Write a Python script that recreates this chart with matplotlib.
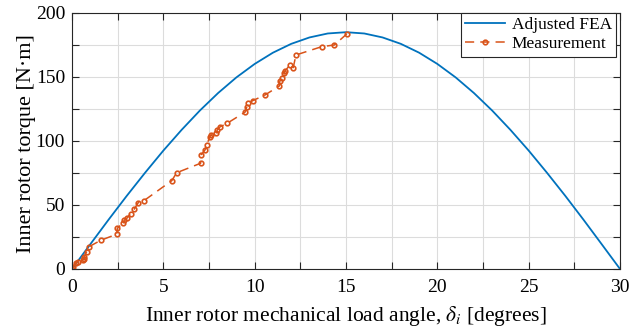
import matplotlib
matplotlib.use("Agg")
import matplotlib.pyplot as plt
from matplotlib.ticker import MultipleLocator

plt.rcParams['font.family'] = ['Liberation Serif', 'DejaVu Serif']
plt.rcParams['mathtext.fontset'] = 'stix'

# Adjusted FEA curve
fea_x = list(range(0, 31))
fea_y = [0, 19.3, 38.5, 57.2, 75.2, 92.5, 108.7, 123.8, 137.5, 149.7, 160.2,
         169.0, 175.9, 180.9, 184.0, 185.0, 184.0, 180.9, 175.9, 169.0, 160.2,
         149.7, 137.5, 123.8, 108.7, 92.5, 75.2, 57.2, 38.5, 19.3, 0]

# Measurement points
meas_x = [0, 0.07, 0.22, 0.35, 0.62, 0.66, 0.66, 0.8, 0.93, 1.57, 2.45, 2.48,
          2.77, 2.85, 3.0, 3.21, 3.41, 3.63, 3.94, 5.46, 5.73, 7.04, 7.06, 7.28,
          7.37, 7.55, 7.6, 7.88, 7.95, 8.1, 8.5, 9.47, 9.56, 9.65, 9.89, 10.56,
          11.35, 11.38, 11.48, 11.62, 11.66, 11.93, 12.11, 12.26, 13.67, 14.36, 15.04]
meas_y = [0, 1.8, 4.9, 5.7, 7, 8, 9.6, 13.5, 17.4, 22.4, 27.2, 31.8,
          35.7, 38, 39.6, 43.3, 46.8, 51.9, 53.4, 69, 75.2, 82.6, 89, 93,
          96.9, 103.4, 104.5, 106, 108.6, 111, 113.9, 122.5, 126.3, 129.4, 131.5, 135.9,
          143, 146.9, 149, 152.9, 154.7, 159.4, 157.3, 167.2, 173.7, 175, 183.6]

fig = plt.figure(figsize=(6.39, 3.29), dpi=100)
ax = fig.add_axes([0.1127, 0.1824, 0.8576, 0.7781])

ax.plot(fea_x, fea_y, color='#0072BD', lw=1.3, label='Adjusted FEA')
ax.plot(meas_x, meas_y, color='#D95319', lw=1.1, ls=(0, (6, 4)), marker='o',
        ms=3.3, mfc='none', mew=1.2, label='Measurement')

ax.set_xlim(0, 30)
ax.set_ylim(0, 200)
ax.xaxis.set_major_locator(MultipleLocator(5))
ax.xaxis.set_minor_locator(MultipleLocator(2.5))
ax.yaxis.set_major_locator(MultipleLocator(50))
ax.yaxis.set_minor_locator(MultipleLocator(25))
ax.grid(True, which='both', color='#dcdcdc', lw=0.8)
ax.set_axisbelow(True)
ax.tick_params(which='both', direction='in', top=True, right=True, labelsize=14,
               width=0.8, color='#262626')
ax.tick_params(axis='x', which='major', pad=7)
ax.tick_params(axis='y', which='major', pad=5)
ax.tick_params(which='major', length=5)
ax.tick_params(which='minor', length=5)
for s in ax.spines.values():
    s.set_color('#262626')
    s.set_linewidth(0.8)

ax.set_xlabel(r'Inner rotor mechanical load angle, $\delta_i$ [degrees]', fontsize=15.5,
              labelpad=6)
ax.set_ylabel('Inner rotor torque [N·m]', fontsize=16)
ax.yaxis.set_label_coords(-0.066, 0.49)

leg = ax.legend(loc='upper right', bbox_to_anchor=(0.993, 1.0), borderaxespad=0,
                fontsize=12.5, fancybox=False, framealpha=1, edgecolor='#262626',
                handlelength=2.3, borderpad=0.25, labelspacing=0.15, handletextpad=0.4)
leg.get_frame().set_linewidth(0.8)

fig.savefig('out.png', dpi=100)
